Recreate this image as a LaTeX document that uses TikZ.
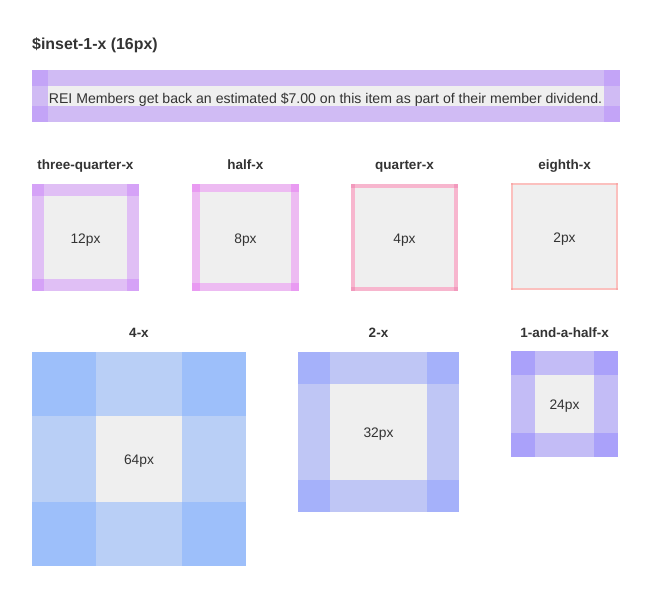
\documentclass[tikz,border=0pt]{standalone}
\usepackage{fontspec}
\setmainfont{Liberation Sans}
\definecolor{innergrey}{HTML}{EFEFEF}
\definecolor{txt}{HTML}{333333}
\definecolor{bnband}{HTML}{D0BBF4}
\definecolor{bncorner}{HTML}{C3A4F7}
\definecolor{tqband}{HTML}{E0BFF5}
\definecolor{tqcorner}{HTML}{D5A2F7}
\definecolor{hfband}{HTML}{EDBBF2}
\definecolor{hfcorner}{HTML}{E99AF2}
\definecolor{qtband}{HTML}{F7B6CE}
\definecolor{qtcorner}{HTML}{F29ABD}
\definecolor{ehband}{HTML}{FBC0BE}
\definecolor{ehcorner}{HTML}{F8AAAA}
\definecolor{fxband}{HTML}{B9CFF6}
\definecolor{fxcorner}{HTML}{9DBFFA}
\definecolor{txband}{HTML}{BFC6F5}
\definecolor{txcorner}{HTML}{A5B1FA}
\definecolor{ohband}{HTML}{C3BCF6}
\definecolor{ohcorner}{HTML}{AAA1FA}
\tikzset{
  boxtext/.style={inner sep=0pt, anchor=base, text=txt, font=\fontsize{13.8}{16}\selectfont},
  headtext/.style={inner sep=0pt, anchor=base, text=txt, font=\fontsize{13.5}{16}\selectfont\bfseries},
}
% #1 x, #2 y, #3 w, #4 h, #5 inset, #6 band, #7 corner, #8 text, #9 name
\newcommand\ibox[9]{%
  \fill[#6] (#1,#2) rectangle ++(#3,#4);
  \fill[#7] (#1,#2) rectangle ++(#5,#5);
  \fill[#7] (#1+#3-#5,#2) rectangle ++(#5,#5);
  \fill[#7] (#1,#2+#4-#5) rectangle ++(#5,#5);
  \fill[#7] (#1+#3-#5,#2+#4-#5) rectangle ++(#5,#5);
  \fill[innergrey] (#1+#5,#2+#5) rectangle (#1+#3-#5,#2+#4-#5);
  \node[boxtext] (#9) at (#1+#3/2,#2+#4/2+5.5) {#8};
}
\begin{document}
\begin{tikzpicture}[x=1pt,y=-1pt]
\useasboundingbox (0,0) rectangle (650,598);
\node[anchor=base west, inner sep=0pt, text=txt, font=\fontsize{15.9}{18}\selectfont\bfseries] (title) at (32,49.5) {\$inset-1-x (16px)};
% banner
\fill[bnband] (32,70) rectangle (620,122);
\fill[bncorner] (32,70) rectangle (48,86);
\fill[bncorner] (604,70) rectangle (620,86);
\fill[bncorner] (32,106) rectangle (48,122);
\fill[bncorner] (604,106) rectangle (620,122);
\fill[innergrey] (48,86) rectangle (604,106);
\node[boxtext, font=\fontsize{14.1}{16}\selectfont] (banner) at (325.5,103) {REI Members get back an estimated \$7.00 on this item as part of their member dividend.};
% row 1
\node[headtext] (l1) at (85.5,169) {three-quarter-x};
\node[headtext] (l2) at (245.3,169) {half-x};
\node[headtext] (l3) at (404.5,169) {quarter-x};
\node[headtext] (l4) at (564.5,169) {eighth-x};
\ibox{32}{184}{107}{107}{12}{tqband}{tqcorner}{12px}{b1}
\ibox{192}{184}{107}{107}{8}{hfband}{hfcorner}{8px}{b2}
\ibox{351}{184}{107}{107}{4}{qtband}{qtcorner}{4px}{b3}
\ibox{511}{183}{107}{107}{2}{ehband}{ehcorner}{2px}{b4}
% row 2
\node[headtext] (l5) at (139,337.5) {4-x};
\node[headtext] (l6) at (378.5,337.5) {2-x};
\node[headtext] (l7) at (564.5,337.5) {1-and-a-half-x};
\ibox{32}{352}{214}{214}{64}{fxband}{fxcorner}{64px}{b5}
\ibox{298}{352}{161}{160}{32}{txband}{txcorner}{32px}{b6}
\ibox{511}{351}{107}{106}{24}{ohband}{ohcorner}{24px}{b7}
\end{tikzpicture}
\end{document}
